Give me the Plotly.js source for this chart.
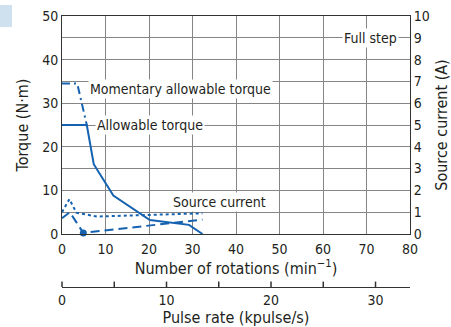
<!DOCTYPE html>
<html>
<head>
<meta charset="utf-8">
<script src="https://cdn.plot.ly/plotly-3.0.1.min.js"></script>
<style>
html,body{margin:0;padding:0;background:#fff;}
#chart{width:451px;height:327px;}
</style>
</head>
<body>
<div id="chart"></div>
<script>
// Allowable torque (N·m) vs number of rotations (min^-1)
const allowX = [0, 5.7, 7.3, 11.8, 20.2, 29.2, 32.3];
const allowY = [25, 25, 16, 8.8, 3.2, 2.1, 0];
// Momentary allowable torque
const momX = [0, 3.5, 5.7];
const momY = [34.5, 34.5, 25];
// Source current (A), dotted curve
const curDotX = [0, 1.7, 3.3, 8, 32.3];
const curDotY = [1.0, 1.6, 0.98, 0.8, 0.95];
// Source current (A), dashed curve
const curDashX = [0, 1.8, 4.9, 32.3];
const curDashY = [0.72, 1.0, 0.05, 0.66];
// fs point
const fsX = [4.9];
const fsY = [0.05];
// tick labels
const rotTicks = [0, 10, 20, 30, 40, 50, 60, 70, 80];
const torqueTicks = [0, 10, 20, 30, 40, 50];
const currentTicks = [0, 1, 2, 3, 4, 5, 6, 7, 8, 9, 10];
const pulseTicks = [0, 10, 20, 30];
const pulseTickMarks = [0, 5, 10, 15, 20, 25, 30];
const pulseRange = [0, 33.3];

const BLUE = '#1562b0';
const TXT = '#231f20';
const GRID = '#858585';
const FONT = '"Liberation Sans Narrow", "DejaVu Sans Condensed", "Arial Narrow", sans-serif';

const traces = [
  {x: allowX, y: allowY, mode: 'lines', line: {color: BLUE, width: 2}, xaxis: 'x', yaxis: 'y'},
  {x: momX, y: momY, mode: 'lines', line: {color: BLUE, width: 2, dash: '8px,4px,2px,4px'}, xaxis: 'x', yaxis: 'y'},
  {x: curDotX, y: curDotY, mode: 'lines', line: {color: BLUE, width: 2, dash: 'dot'}, xaxis: 'x', yaxis: 'y2'},
  {x: curDashX, y: curDashY, mode: 'lines', line: {color: BLUE, width: 2, dash: '9px,5px'}, xaxis: 'x', yaxis: 'y2'},
  {x: fsX, y: fsY, mode: 'markers', marker: {color: BLUE, size: 7, symbol: 'circle'}, cliponaxis: false, xaxis: 'x', yaxis: 'y2'},
  {x: [0], y: [0], mode: 'markers', marker: {opacity: 0}, xaxis: 'x2', yaxis: 'y', hoverinfo: 'skip'}
];

// pulse-rate axis tick marks pointing upward from the free axis line (paper coords from axis range)
const tickShapes = pulseTickMarks.map(v => {
  const p = (v - pulseRange[0]) / (pulseRange[1] - pulseRange[0]);
  return {type: 'line', xref: 'paper', yref: 'paper', layer: 'above',
    x0: p, x1: p, y0: 0, y1: 0.02, line: {color: '#333', width: 1.5}};
});

const annFont = {family: FONT, size: 14, color: TXT};
const layout = {
  width: 451, height: 327,
  margin: {l: 62, r: 41, t: 16, b: 40},
  paper_bgcolor: '#fff', plot_bgcolor: '#fff',
  showlegend: false,
  font: {family: FONT, size: 14, color: TXT},
  xaxis: {
    range: [0, 80], tickvals: rotTicks, ticks: '', showgrid: true, gridcolor: GRID, gridwidth: 1,
    zeroline: false, showline: true, linecolor: '#333', linewidth: 1, mirror: true,
    ticklabelstandoff: 2,
    tickfont: {family: FONT, size: 14, color: TXT},
    title: {text: 'Number of rotations (min<sup>−1</sup>)', font: {family: FONT, size: 16, color: TXT}, standoff: 1},
    anchor: 'y'
  },
  xaxis2: {
    range: pulseRange, overlaying: 'x', anchor: 'free', position: 0, side: 'bottom',
    tickvals: pulseTicks, ticks: '',
    showgrid: false, zeroline: false,
    showline: true, linecolor: '#333', linewidth: 1,
    tickfont: {family: FONT, size: 14, color: TXT},
    title: {text: 'Pulse rate (kpulse/s)', font: {family: FONT, size: 16, color: TXT}, standoff: 2}
  },
  yaxis: {
    domain: [0.1956, 1], range: [0, 50], tickvals: torqueTicks, ticks: '',
    showgrid: true, gridcolor: GRID, gridwidth: 1,
    minor: {dtick: 5, showgrid: true, gridcolor: GRID, gridwidth: 1},
    zeroline: false, showline: true, linecolor: '#333', linewidth: 1,
    tickfont: {family: FONT, size: 14, color: TXT},
    title: {text: 'Torque (N·m)', font: {family: FONT, size: 16, color: TXT}, standoff: 9},
    anchor: 'x'
  },
  yaxis2: {
    domain: [0.1956, 1], range: [0, 10], tickvals: currentTicks, ticks: '', overlaying: 'y', side: 'right',
    showgrid: false, zeroline: false, showline: true, linecolor: '#333', linewidth: 1,
    tickfont: {family: FONT, size: 14, color: TXT},
    title: {text: 'Source current (A)', font: {family: FONT, size: 16, color: TXT}, standoff: 9},
    anchor: 'x'
  },
  annotations: [
    {text: 'Momentary allowable torque', x: 6.0, y: 33.3, xref: 'x', yref: 'y', xanchor: 'left', yanchor: 'middle', showarrow: false, bgcolor: '#fff', borderpad: 1, font: annFont},
    {text: 'Allowable torque', x: 7.7, y: 25, xref: 'x', yref: 'y', xanchor: 'left', yanchor: 'middle', showarrow: false, bgcolor: '#fff', borderpad: 1, font: annFont},
    {text: 'Full step', x: 71.0, y: 45.0, xref: 'x', yref: 'y', xanchor: 'center', yanchor: 'middle', showarrow: false, bgcolor: '#fff', borderpad: 1, font: annFont},
    {text: 'Source current', x: 36.3, y: 7.4, xref: 'x', yref: 'y', xanchor: 'center', yanchor: 'middle', showarrow: false, bgcolor: '#fff', borderpad: 1, font: annFont},
    {text: 'fs', x: 4.9, y: -3.1, xref: 'x', yref: 'y', xanchor: 'center', yanchor: 'middle', showarrow: false, font: {family: FONT, size: 14, color: TXT}}
  ],
  shapes: [
    {type: 'rect', xref: 'paper', yref: 'paper', x0: -0.178, x1: -0.1437, y0: 0.959, y1: 1.0406, fillcolor: '#cfe0ef', line: {width: 0}, layer: 'above'}
  ].concat(tickShapes)
};

Plotly.newPlot('chart', traces, layout, {staticPlot: true, displayModeBar: false});
</script>
</body>
</html>
